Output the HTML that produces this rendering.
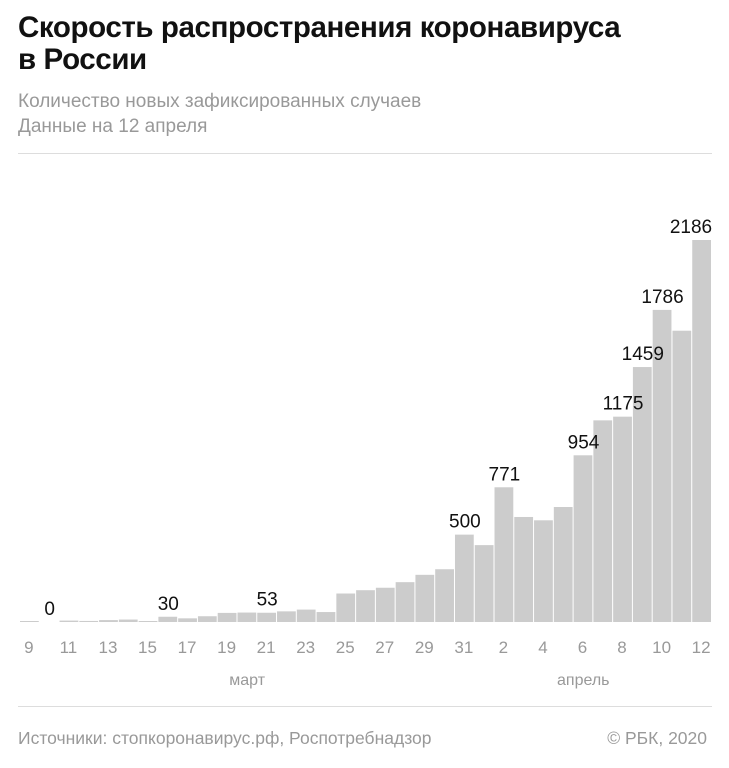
<!DOCTYPE html>
<html><head><meta charset="utf-8"><style>
body{margin:0;width:729px;height:768px;background:#fff;font-family:"Liberation Sans","Noto Sans CJK SC",sans-serif;position:relative;overflow:hidden}
.t{position:absolute;white-space:nowrap}
</style></head><body>
<div class="t" style="left:18px;top:12px;font-size:29.5px;font-weight:bold;line-height:32px;color:#111;letter-spacing:-0.4px">Скорость распространения коронавируса<br>в России</div>
<div class="t" style="left:18px;top:89px;font-size:19px;line-height:25px;color:#999">Количество новых зафиксированных случаев<br>Данные на 12 апреля</div>
<div style="position:absolute;left:18px;top:153px;width:694px;height:1px;background:#ddd"></div>
<svg id="chart" width="729" height="768" style="position:absolute;left:0;top:0"></svg>
<div style="position:absolute;left:18px;top:706px;width:694px;height:1px;background:#ddd"></div>
<div class="t" style="left:18px;top:728px;font-size:17.5px;color:#999">Источники: стопкоронавирус.рф, Роспотребнадзор</div>
<div class="t" style="right:22px;top:728px;font-size:17.5px;color:#999">© РБК, 2020</div>
<script>
const days=[9,10,11,12,13,14,15,16,17,18,19,20,21,22,23,24,25,26,27,28,29,30,31,1,2,3,4,5,6,7,8,9,10,11,12];
const cases=[3,0,8,6,11,14,4,30,21,33,52,54,53,61,71,57,163,182,196,228,270,302,500,440,771,601,582,658,954,1154,1175,1459,1786,1667,2186];
const labeled=[1,7,12,22,24,28,30,31,32,34];
const months=[{name:"март",at:12},{name:"апрель",at:29}];
const svg=document.getElementById('chart');
const NS='http://www.w3.org/2000/svg';
const x0=20,pitch=692/35,base=622,maxV=2186,maxH=382;
const xs=i=>x0+i*pitch;
const ys=v=>base-v/maxV*maxH;
cases.forEach((v,i)=>{
  const r=document.createElementNS(NS,'rect');
  
  
  const y=Math.min(ys(v),base-1);
  r.setAttribute('x',xs(i));r.setAttribute('y',y);
  r.setAttribute('width',pitch-1);r.setAttribute('height',base-y);
  r.setAttribute('fill',v===0?'#fff':'#ccc');
  svg.appendChild(r);
  if(i%2===0){
    const t=document.createElementNS(NS,'text');
    
    
    t.setAttribute('x',xs(i)+pitch/2-1);t.setAttribute('y',653);
    t.setAttribute('text-anchor','middle');t.setAttribute('font-size','17');t.setAttribute('fill','#999');
    t.textContent=days[i];svg.appendChild(t);
  }
});
cases.forEach((v,i)=>{
  if(!labeled.includes(i))return;
  const t=document.createElementNS(NS,'text');
  
  
  const w=String(v).length*10.5;
  const cx=Math.min(xs(i)+pitch/2,712-w/2);
  t.setAttribute('x',cx);t.setAttribute('y',Math.min(ys(v),base)-7);
  t.setAttribute('text-anchor','middle');t.setAttribute('font-size','19');t.setAttribute('fill','#111');
  t.textContent=v;svg.appendChild(t);
});
months.forEach(m=>{
  const t=document.createElementNS(NS,'text');
  
  
  t.setAttribute('x',xs(m.at)+pitch/2-20);t.setAttribute('y',685);
  t.setAttribute('text-anchor','middle');t.setAttribute('font-size','16');t.setAttribute('fill','#999');
  t.textContent=m.name;svg.appendChild(t);
});
</script>
</body></html>
